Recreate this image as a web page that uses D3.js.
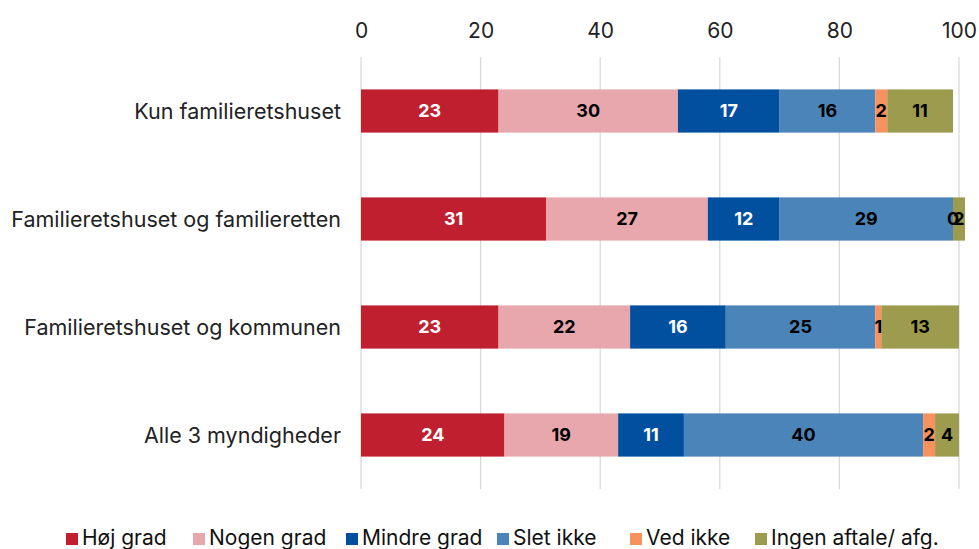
<!DOCTYPE html>
<html><head><meta charset="utf-8">
<script src="https://cdn.jsdelivr.net/npm/d3@7"></script>
<style>body{margin:0;background:#fff;} svg{display:block;font-family:Inter,"Noto Sans",sans-serif;}</style>
</head><body>
<svg id="c" width="979" height="549"></svg>
<script>
const categories = ["Kun familieretshuset","Familieretshuset og familieretten","Familieretshuset og kommunen","Alle 3 myndigheder"];
const seriesNames = ["Høj grad","Nogen grad","Mindre grad","Slet ikke","Ved ikke","Ingen aftale/ afg."];
const hojGrad    = [23,31,23,24];
const nogenGrad  = [30,27,22,19];
const mindreGrad = [17,12,16,11];
const sletIkke   = [16,29,25,40];
const vedIkke    = [2,0,1,2];
const ingenAftale= [11,2,13,4];
const tickValues = [0,20,40,60,80,100];
const colors = ["#C01F30","#E8A7AD","#01509F","#4A84B8","#F7925E","#9C9B4E"];
const labelColors = ["#fff","#000","#fff","#000","#000","#000"];

const seriesVals = [hojGrad,nogenGrad,mindreGrad,sletIkke,vedIkke,ingenAftale];
const rows = categories.map((c,i)=>{const o={cat:c}; seriesNames.forEach((s,j)=>o[s]=seriesVals[j][i]); return o;});
const stacked = d3.stack().keys(seriesNames)(rows);

const svg = d3.select("#c");
const x = d3.scaleLinear().domain([0,100]).range([361,959]);
const y = d3.scaleBand().domain(categories).range([57,489]).paddingInner(0.6).paddingOuter(0.3);

// gridlines
svg.append("g").selectAll("line").data(tickValues).join("line")
  .attr("x1",d=>x(d)).attr("x2",d=>x(d)).attr("y1",57).attr("y2",489)
  .attr("stroke","#d9d9d9").attr("stroke-width",1.3);

// top axis labels
const ax = svg.append("g").attr("transform","translate(0,30)")
  .call(d3.axisTop(x).tickValues(tickValues).tickSize(0).tickPadding(0));
ax.select(".domain").remove();
ax.selectAll("text").attr("font-size",21).attr("fill","#222").attr("font-family","Inter").attr("dy","0.36em");

// category labels
const ay = svg.append("g").attr("transform","translate(341,0)")
  .call(d3.axisLeft(y).tickSize(0).tickPadding(0));
ay.select(".domain").remove();
ay.selectAll("text").attr("font-size",21.5).attr("fill","#222").attr("font-family","Inter").attr("dy","0.36em");

// bars
const g = svg.append("g");
stacked.forEach((s,j)=>{
  g.append("g").selectAll("rect").data(s).join("rect")
    .attr("x",d=>x(d[0])).attr("width",d=>x(d[1])-x(d[0]))
    .attr("y",d=>y(d.data.cat)).attr("height",y.bandwidth())
    .attr("fill",colors[j]);
});
stacked.forEach((s,j)=>{
  g.append("g").selectAll("text").data(s).join("text")
    .attr("x",d=>(x(d[0])+x(d[1]))/2).attr("y",d=>y(d.data.cat)+y.bandwidth()/2)
    .attr("dy","0.36em").attr("text-anchor","middle")
    .attr("font-size",18).attr("font-weight","bold").attr("fill",labelColors[j])
    .text(d=>d[1]-d[0]);
});

// legend
const legX = [66,193,346,497,630,755];
const leg = svg.append("g");
seriesNames.forEach((s,j)=>{
  leg.append("rect").attr("x",legX[j]).attr("y",533).attr("width",12).attr("height",12).attr("fill",colors[j]);
  leg.append("text").attr("x",legX[j]+16).attr("y",545)
    .attr("font-size",21).attr("fill","#111").text(s);
});
</script>
</body></html>
